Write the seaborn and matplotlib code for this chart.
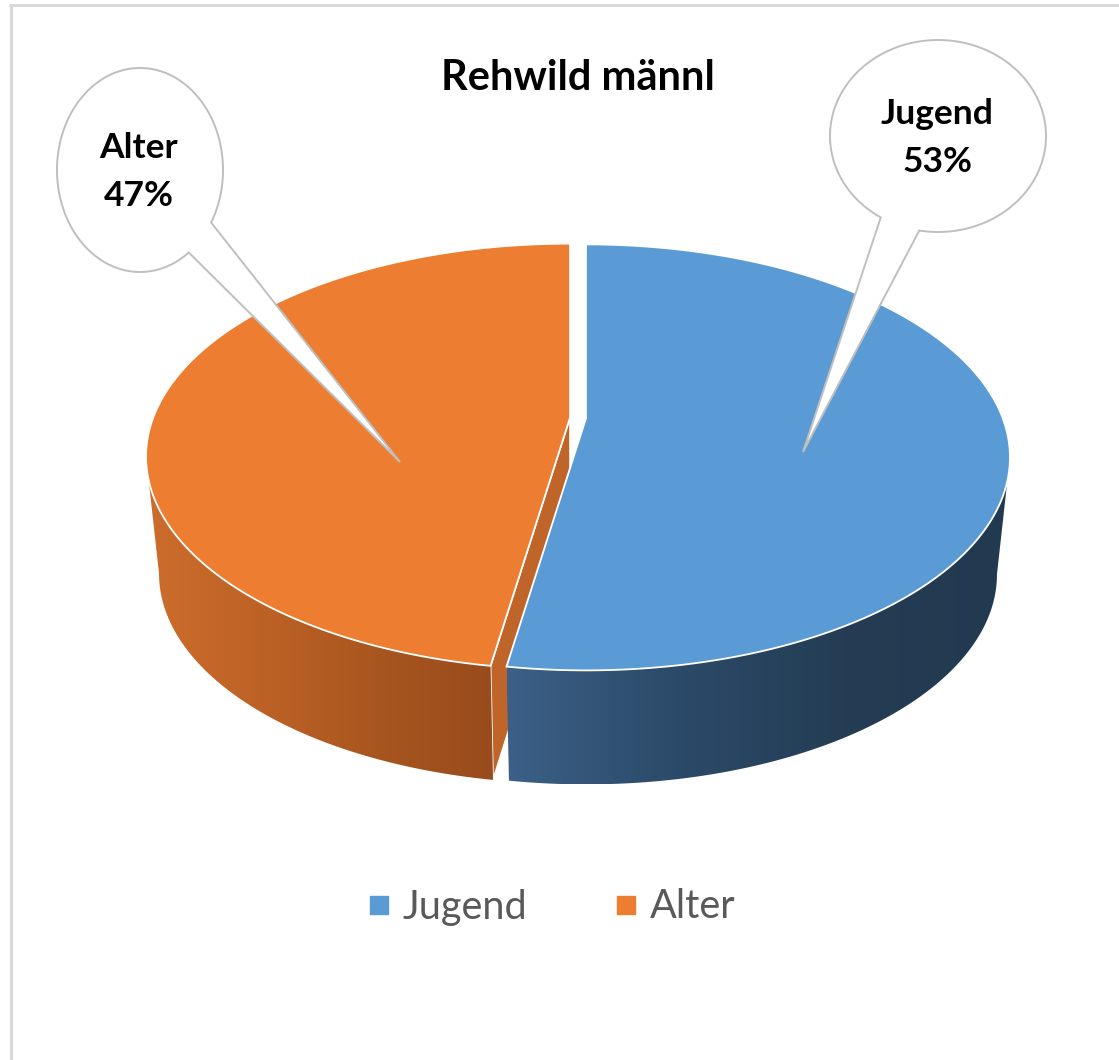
import numpy as np
import matplotlib
matplotlib.use("Agg")
import matplotlib.pyplot as plt
from matplotlib.patches import Polygon
from matplotlib.lines import Line2D
import seaborn as sns

# data
title = "Rehwild männl"
labels = ["Jugend", "Alter"]
shares = [53, 47]
top_colors = ["#5b9bd5", "#ed7d31"]
side_colors = [["#3c6087", "#2c4a69", "#243d54", "#223a50"],
               ["#cc6d2c", "#bd6226", "#a8561f", "#984b1c"]]
cut_colors = ["#2f4d6e", "#c0652a"]

sns.set_theme(style="white")
plt.rcParams["font.family"] = ["Lato", "DejaVu Sans"]

W, H = 1119, 1060
fig = plt.figure(figsize=(W / 100, H / 100), dpi=100)
ax = fig.add_axes([0, 0, 1, 1])

# pie geometry in pixels (top ellipse / bottom ellipse)
cx, cy, a, b = 578, 457, 424, 213
cxb, cyb, ab, bb = 578, 574, 411, 210
k_apex = 39 / 213
explode = 8


def rim(t, off, bottom=False):
    t = np.radians(np.atleast_1d(t))
    if bottom:
        return np.column_stack([cxb + ab * np.cos(t) + off[0], cyb - bb * np.sin(t) + off[1]])
    return np.column_stack([cx + a * np.cos(t) + off[0], cy - b * np.sin(t) + off[1]])


def apex(off, bottom=False):
    if bottom:
        return np.array([[cxb + off[0], cyb - k_apex * bb + off[1]]])
    return np.array([[cx + off[0], cy - k_apex * b + off[1]]])


def front_part(lo, hi):
    # visible (front) part of the outer wall: sin(t) < 0
    for k in (-1, 0, 1):
        s, e = max(lo, -180 + 360 * k), min(hi, 360 * k)
        if e > s:
            return s, e
    return None


total = sum(shares)
slices = []
start = 90.0
for i, v in enumerate(shares):
    t1 = start
    t2 = start - v / total * 360
    mid = np.radians((t1 + t2) / 2)
    off = (explode * np.cos(mid), -explode * np.sin(mid) * b / a)
    slices.append((t1, t2, off))
    start = t2

# radial cut faces
for i, (t1, t2, off) in enumerate(slices):
    for t, nrm in ((t1, t1 + 90), (t2, t2 - 90)):
        if np.sin(np.radians(nrm)) < -0.05:
            pts = np.vstack([apex(off), rim(t, off), rim(t, off, True), apex(off, True)])
            ax.add_patch(Polygon(pts, closed=True, facecolor=cut_colors[i],
                                 edgecolor="white", lw=1.2, zorder=1))

# outer walls with horizontal gradient
for i, (t1, t2, off) in enumerate(slices):
    fp = front_part(t2, t1)
    if fp is None:
        continue
    ts = np.linspace(fp[0], fp[1], 200)
    pts = np.vstack([rim(ts, off), rim(ts[::-1], off, True)])
    poly = Polygon(pts, closed=True, facecolor="none", edgecolor="none", zorder=2)
    ax.add_patch(poly)
    grad = np.array(sns.blend_palette(side_colors[i], n_colors=256))[None, :, :]
    im = ax.imshow(grad, extent=[pts[:, 0].min(), pts[:, 0].max(), pts[:, 1].max(), pts[:, 1].min()],
                   aspect="auto", zorder=2, interpolation="bilinear")
    im.set_clip_path(poly)

# top faces
for i, (t1, t2, off) in enumerate(slices):
    ts = np.linspace(t1, t2, 300)
    pts = np.vstack([apex(off), rim(ts, off)])
    ax.add_patch(Polygon(pts, closed=True, facecolor=top_colors[i],
                         edgecolor="white", lw=1.3, zorder=3))

# callout bubbles: (centre, rx, ry, tail arc start/end deg, tail tip)
bubbles = {
    "Alter": ((140, 170), 83, 102, 31, 54, (400, 462)),
    "Jugend": ((938, 136), 108, 96, 100, 122, (803, 452)),
}
for lab, v in zip(labels, shares):
    (bx, by), rx, ry, g1, g2, tip = bubbles[lab]
    p = np.radians(np.linspace(g2, g1 + 360, 300))
    pts = np.column_stack([bx + rx * np.cos(p), by + ry * np.sin(p)])
    pts = np.vstack([pts, [tip]])
    ax.add_patch(Polygon(pts, closed=True, facecolor="white", edgecolor="#bfbfbf",
                         lw=1.4, zorder=5))
    ax.text(bx - 1, by + 2, f"{lab}\n{v}%", ha="center", va="center", fontsize=25.5,
            fontweight="bold", color="black", linespacing=1.62, zorder=6)

ax.text(578, 78, title, ha="center", va="center", fontsize=30,
        fontweight="bold", color="black")

# chart area border (top and left visible)
ax.plot([10.5, 10.5], [H, 5], color="#d9d9d9", lw=2.2, solid_capstyle="butt")
ax.plot([9, W], [5, 5], color="#d9d9d9", lw=2.2, solid_capstyle="butt")

handles = [Line2D([], [], marker="s", ls="", markersize=13.5, color=c) for c in top_colors]
ax.legend(handles, labels, loc="center", bbox_to_anchor=(551 / W, 1 - 907 / H),
          ncol=2, frameon=False, fontsize=28.5, handlelength=0.6, handletextpad=0.3,
          columnspacing=2.2, labelcolor="#595959")

ax.set_xlim(0, W)
ax.set_ylim(H, 0)
ax.axis("off")

plt.savefig("out.png", dpi=100)
